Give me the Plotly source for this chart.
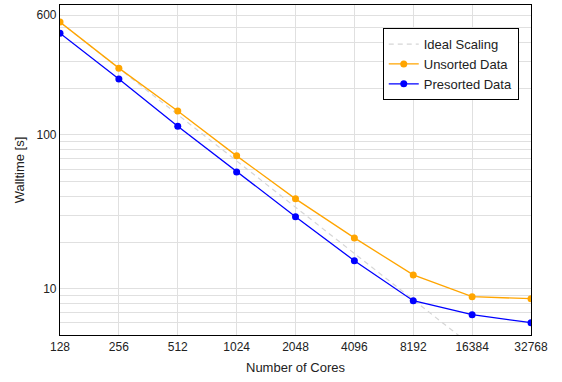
import plotly.graph_objects as go
import math

cores = [128, 256, 512, 1024, 2048, 4096, 8192, 16384, 32768]
core_labels = ["128", "256", "512", "1024", "2048", "4096", "8192", "16384", "32768"]
unsorted = [542, 272, 143, 73.1, 38.4, 21.4, 12.3, 8.87, 8.61]
presorted = [459, 231, 114, 57.5, 29.4, 15.2, 8.36, 6.78, 6.01]
ideal = [542, 271, 135.5, 67.75, 33.88, 16.94, 8.47, 4.23, 2.12]

y_grid = [6, 7, 8, 9, 10, 20, 30, 40, 50, 60, 70, 80, 90, 100, 200, 300, 400, 500, 600]
y_labels = {10: "10", 100: "100", 600: "600"}

FONT = "Liberation Sans, Arial, Helvetica, sans-serif"

fig = go.Figure()
fig.add_trace(go.Scatter(x=cores, y=ideal, mode="lines", name="Ideal Scaling",
                         line=dict(color="#d6d6d6", width=1.2, dash="5px,4px")))
fig.add_trace(go.Scatter(x=cores, y=unsorted, mode="lines+markers", name="Unsorted Data",
                         line=dict(color="#FFA500", width=1.3),
                         marker=dict(color="#FFA500", size=7)))
fig.add_trace(go.Scatter(x=cores, y=presorted, mode="lines+markers", name="Presorted Data",
                         line=dict(color="#0000FF", width=1.3),
                         marker=dict(color="#0000FF", size=7)))

fig.update_layout(
    width=562, height=382,
    margin=dict(l=60, r=31, t=5, b=47),
    paper_bgcolor="white", plot_bgcolor="white",
    font=dict(family=FONT, size=12, color="#222222"),
    showlegend=True,
    legend=dict(x=0.974, y=0.93, xanchor="right", yanchor="top",
                bgcolor="white", bordercolor="black", borderwidth=1,
                font=dict(size=13), tracegroupgap=0, itemwidth=30),
    xaxis=dict(type="log", range=[math.log10(128), math.log10(32768)],
               tickvals=cores, ticktext=core_labels,
               showgrid=True, gridcolor="#e0e0e0", gridwidth=1,
               showline=True, linecolor="black", linewidth=1.2, mirror=True,
               ticks="", zeroline=False,
               title=dict(text="Number of Cores", font=dict(size=13), standoff=10)),
    yaxis=dict(type="log", range=[math.log10(5), math.log10(700)],
               tickvals=y_grid, ticktext=[y_labels.get(v, "") for v in y_grid],
               showgrid=True, gridcolor="#e0e0e0", gridwidth=1,
               showline=True, linecolor="black", linewidth=1.2, mirror=True,
               ticks="", zeroline=False,
               title=dict(text="Walltime [s]", font=dict(size=13), standoff=8)),
)

fig.write_html("out.html")
